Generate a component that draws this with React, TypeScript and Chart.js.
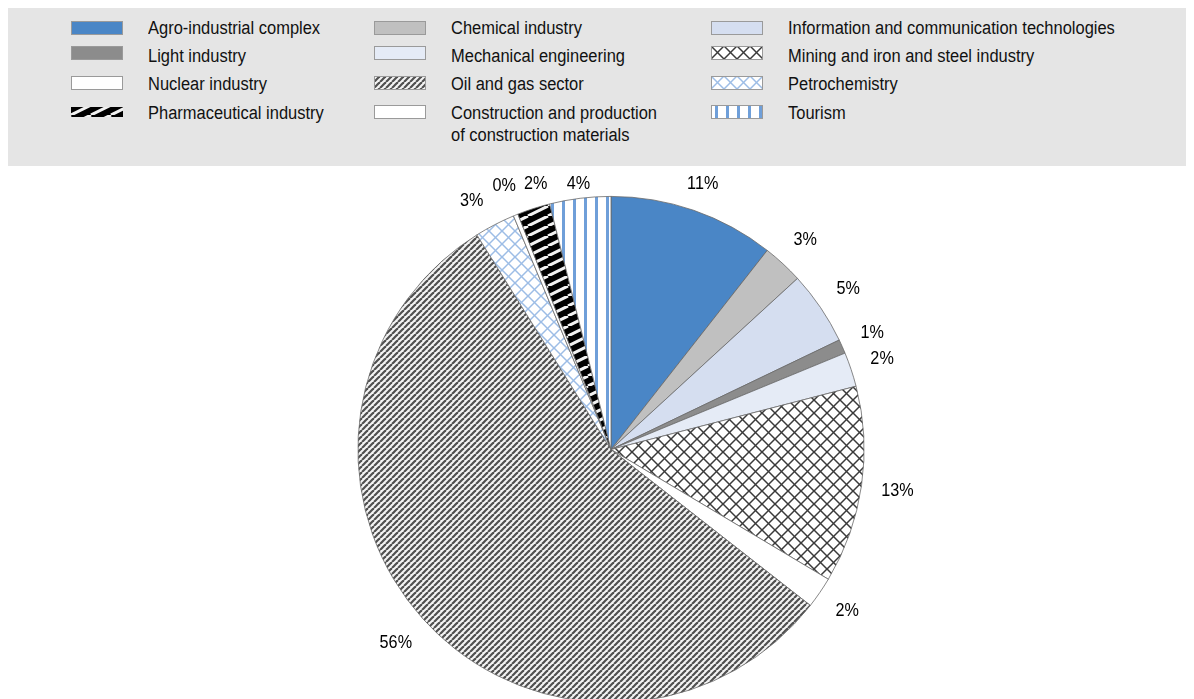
import React, { useEffect, useRef } from "react";
import { Chart, registerables } from "chart.js";

Chart.register(...registerables);

// ---- data ----
const sectors = [
  "Agro-industrial complex",
  "Chemical industry",
  "Information and communication technologies",
  "Light industry",
  "Mechanical engineering",
  "Mining and iron and steel industry",
  "Construction and production of construction materials",
  "Oil and gas sector",
  "Petrochemistry",
  "Nuclear industry",
  "Pharmaceutical industry",
  "Tourism",
];
const shares = [10.6, 2.6, 4.7, 0.9, 2.2, 12.6, 2.0, 55.6, 2.6, 0.3, 2.1, 3.9];
const fills = ["agro", "chem", "ict", "light", "mech", "mining", "constr", "oil", "petro", "nuclear", "pharma", "tourism"];

// legend layout: three columns
const legendColumns = [
  [
    { key: "agro", label: ["Agro-industrial complex"] },
    { key: "light", label: ["Light industry"] },
    { key: "nuclear", label: ["Nuclear industry"] },
    { key: "pharma", label: ["Pharmaceutical industry"] },
  ],
  [
    { key: "chem", label: ["Chemical industry"] },
    { key: "mech", label: ["Mechanical engineering"] },
    { key: "oil", label: ["Oil and gas sector"] },
    { key: "constr", label: ["Construction and production", "of construction materials"] },
  ],
  [
    { key: "ict", label: ["Information and communication technologies"] },
    { key: "mining", label: ["Mining and iron and steel industry"] },
    { key: "petro", label: ["Petrochemistry"] },
    { key: "tourism", label: ["Tourism"] },
  ],
];

const FONT = "'Liberation Sans', Arial, sans-serif";
const SQUEEZE = 0.9;

function makeTile(key: string): HTMLCanvasElement {
  const c = document.createElement("canvas");
  const draw = (fn: (ctx: CanvasRenderingContext2D, w: number, h: number) => void, w: number, h: number = w) => {
    c.width = w;
    c.height = h;
    fn(c.getContext("2d")!, w, h);
  };
  const solid = (col: string) => (ctx: CanvasRenderingContext2D, w: number, h: number) => {
    ctx.fillStyle = col;
    ctx.fillRect(0, 0, w, h);
  };
  const diag = (bg: string, fg: string, lw: number) => (ctx: CanvasRenderingContext2D, w: number, h: number) => {
    ctx.fillStyle = bg;
    ctx.fillRect(0, 0, w, h);
    ctx.strokeStyle = fg;
    ctx.lineWidth = lw;
    for (const off of [-w, 0, w]) {
      ctx.beginPath();
      ctx.moveTo(off, h);
      ctx.lineTo(off + w, 0);
      ctx.stroke();
    }
  };
  const cross = (fg: string, lw: number) => (ctx: CanvasRenderingContext2D, w: number, h: number) => {
    ctx.fillStyle = "#ffffff";
    ctx.fillRect(0, 0, w, h);
    ctx.strokeStyle = fg;
    ctx.lineWidth = lw;
    for (const off of [-w, 0, w]) {
      ctx.beginPath();
      ctx.moveTo(off, h);
      ctx.lineTo(off + w, 0);
      ctx.stroke();
      ctx.beginPath();
      ctx.moveTo(off, 0);
      ctx.lineTo(off + w, h);
      ctx.stroke();
    }
  };
  switch (key) {
    case "agro": draw(solid("#4a86c6"), 4); break;
    case "chem": draw(solid("#c0c0c0"), 4); break;
    case "ict": draw(solid("#d5def0"), 4); break;
    case "light": draw(solid("#8c8c8c"), 4); break;
    case "mech": draw(solid("#e5ebf6"), 4); break;
    case "constr": draw(solid("#ffffff"), 4); break;
    case "nuclear": draw(solid("#ffffff"), 4); break;
    case "oil": draw(diag("#f4f4f4", "#505050", 2.2), 6); break;
    case "mining": draw(cross("#3a3a3a", 1.5), 13); break;
    case "petro": draw(cross("#9dbde6", 1.5), 13); break;
    case "pharma": draw(diag("#000000", "#f2f2f2", 3), 20, 10); break;
    case "tourism":
      draw((ctx, w, h) => {
        ctx.fillStyle = "#ffffff";
        ctx.fillRect(0, 0, w, h);
        ctx.fillStyle = "#6f9fd9";
        ctx.fillRect(4, 0, 3, h);
      }, 11);
      break;
  }
  return c;
}

const pctLabels = {
  id: "pctLabels",
  afterDatasetsDraw(chart: any) {
    const ctx = chart.ctx;
    const meta = chart.getDatasetMeta(0);
    const data = chart.data.datasets[0].data as number[];
    const total = data.reduce((a, b) => a + b, 0);
    const minY = chart.chartArea.top - 12;
    const gap = 19;
    const h = 16;
    const pad = 8;
    ctx.save();
    ctx.font = `18px ${FONT}`;
    ctx.fillStyle = "#000";
    ctx.textAlign = "center";
    ctx.textBaseline = "middle";

    const items = meta.data.map((arc: any, i: number) => {
      const p = arc.getProps(["startAngle", "endAngle", "outerRadius", "x", "y"], true);
      const txt = `${Math.round((data[i] / total) * 100)}%`;
      return {
        txt,
        w: ctx.measureText(txt).width * SQUEEZE,
        a: (p.startAngle + p.endAngle) / 2,
        r: p.outerRadius,
        x: p.x,
        y: p.y,
        cx: 0,
        cy: 0,
      };
    });
    const place = (it: any) => {
      const dx = Math.cos(it.a);
      const dy = Math.sin(it.a);
      const d = it.r + gap + Math.abs(dx) * (it.w / 2) + Math.abs(dy) * (h / 2);
      let cx = it.x + dx * d;
      let cy = it.y + dy * d;
      if (cy < minY && dy < 0) {
        const t = (it.y - minY) / -dy;
        cx = it.x + dx * t;
        cy = minY;
      }
      it.cx = cx;
      it.cy = cy;
    };
    items.forEach(place);
    const overlap = (p: any, q: any) =>
      Math.abs(p.cx - q.cx) < (p.w + q.w) / 2 + pad && Math.abs(p.cy - q.cy) < h + 2;
    for (let iter = 0; iter < 400; iter++) {
      let moved = false;
      for (let i = 0; i < items.length - 1; i++) {
        const p = items[i];
        const q = items[i + 1];
        if (overlap(p, q)) {
          p.a -= 0.002;
          q.a += 0.002;
          place(p);
          place(q);
          moved = true;
        }
      }
      if (!moved) break;
    }
    items.forEach((it: any) => {
      ctx.save();
      ctx.translate(it.cx, it.cy);
      ctx.scale(SQUEEZE, 1);
      ctx.fillText(it.txt, 0, 0);
      ctx.restore();
    });
    ctx.restore();
  },
};

function Swatch({ k }: { k: string }) {
  const ref = useRef<HTMLCanvasElement>(null);
  useEffect(() => {
    const c = ref.current!;
    const ctx = c.getContext("2d")!;
    const tile = makeTile(k);
    const hh = k === "pharma" ? 10 : 14;
    ctx.clearRect(0, 0, c.width, c.height);
    const y0 = (14 - hh) / 2;
    ctx.fillStyle = ctx.createPattern(tile, "repeat")!;
    ctx.fillRect(0, y0, 52, hh);
    if (k !== "pharma") {
      ctx.strokeStyle = "#9a9a9a";
      ctx.lineWidth = 1;
      ctx.strokeRect(0.5, y0 + 0.5, 51, hh - 1);
    }
  }, [k]);
  return <canvas ref={ref} width={52} height={14} style={{ display: "block" }} />;
}

export default function App() {
  const canvasRef = useRef<HTMLCanvasElement>(null);
  useEffect(() => {
    const ctx = canvasRef.current!.getContext("2d")!;
    const patterns = fills.map((k) => ctx.createPattern(makeTile(k), "repeat")!);
    const chart = new Chart(ctx, {
      type: "pie",
      data: {
        labels: sectors,
        datasets: [
          {
            data: shares,
            backgroundColor: patterns as any,
            borderColor: "#6a6a6a",
            borderWidth: 0.8,
          },
        ],
      },
      options: {
        animation: false,
        responsive: false,
        layout: { padding: { top: 30, bottom: 29, left: 20, right: 0 } },
        plugins: { legend: { display: false }, tooltip: { enabled: false } },
      },
      plugins: [pctLabels],
    });
    return () => chart.destroy();
  }, []);

  const colX = [63, 366, 703];
  const textCenters = [20, 47.5, 76, 105];
  const swatchCenters = [20, 45, 75, 104];
  return (
    <div style={{ position: "relative", width: 1186, height: 700, fontFamily: FONT }}>
      <canvas ref={canvasRef} width={1186} height={566} style={{ position: "absolute", left: 0, top: 158, display: "block" }} />
      <div style={{ position: "absolute", left: 0, top: 0, width: 1186, height: 158, background: "#e5e5e5" }}>
        {legendColumns.map((col, ci) =>
          col.map((item, ri) => (
            <React.Fragment key={item.key}>
              <div style={{ position: "absolute", left: colX[ci], top: swatchCenters[ri] - 7 }}>
                <Swatch k={item.key} />
              </div>
              <div
                style={{
                  position: "absolute",
                  left: colX[ci] + 77,
                  top: textCenters[ri] - 11,
                  whiteSpace: "nowrap",
                  fontSize: 18,
                  lineHeight: "22px",
                  color: "#111",
                  transform: `scaleX(${SQUEEZE + 0.015})`,
                  transformOrigin: "0 0",
                }}
              >
                {item.label.map((l, li) => (
                  <div key={li}>{l}</div>
                ))}
              </div>
            </React.Fragment>
          ))
        )}
      </div>
    </div>
  );
}
